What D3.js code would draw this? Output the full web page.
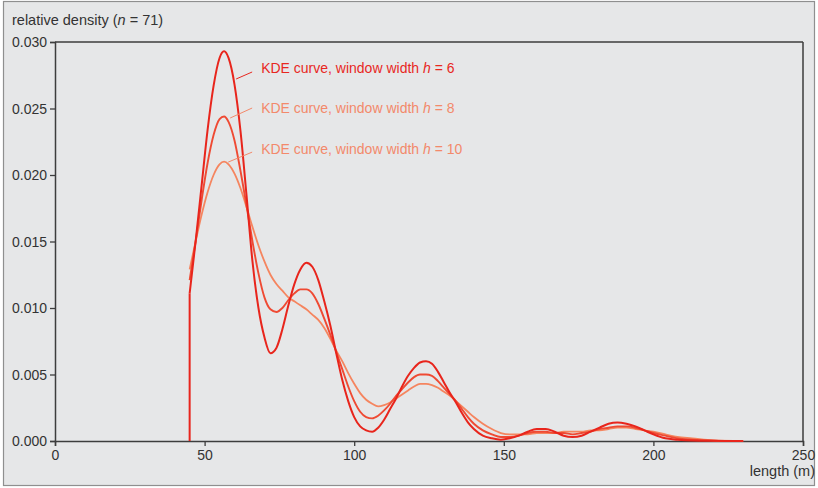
<!DOCTYPE html>
<html><head><meta charset="utf-8">
<script src="https://cdn.jsdelivr.net/npm/d3@7"></script>
<style>
html,body{margin:0;padding:0;background:#fff;}
svg{display:block;font-family:"Liberation Sans",Arial,Helvetica,sans-serif;}
</style></head>
<body>
<svg id="chart" width="818" height="488"></svg>
<script>
// ---- data ----
const lengths = [45,47,49,51,53,55,56.5,58,60,62,64,66,68,70,72,74,76,78,80,82,84,86,88,90,92,94,96,98,100,102,104,106,108,110,112,114,116,118,120,122,124,126,128,130,132,134,136,138,140,143,146,149,152,155,158,161,164,167,170,173,176,179,182,185,188,191,194,197,200,204,208,213,220,230];
const densityH6 = [0.0111,0.0150,0.0192,0.0234,0.0267,0.0288,0.0293,0.0288,0.0268,0.0233,0.0185,0.0135,0.0100,0.0078,0.0066,0.0070,0.0084,0.0102,0.0118,0.0129,0.0134,0.0131,0.0121,0.0105,0.0087,0.0066,0.0046,0.0030,0.0018,0.0011,0.0008,0.0007,0.0010,0.0016,0.0024,0.0032,0.0041,0.0049,0.0055,0.0059,0.0060,0.0058,0.0052,0.0044,0.0036,0.0029,0.0021,0.0014,0.0009,0.0004,0.0002,0.0001,0.0002,0.0004,0.0007,0.0009,0.0009,0.0007,0.0004,0.0003,0.0004,0.0007,0.0010,0.0013,0.0014,0.0013,0.0011,0.0008,0.0005,0.0002,0.0001,0.00003,0.00001,0];
const densityH8 = [0.0121,0.0150,0.0181,0.0209,0.0230,0.0242,0.0244,0.0240,0.0226,0.0203,0.0177,0.0150,0.0126,0.0108,0.0099,0.0097,0.0100,0.0106,0.0111,0.0114,0.0114,0.0111,0.0103,0.0092,0.0080,0.0067,0.0054,0.0041,0.0030,0.0022,0.0018,0.0017,0.0019,0.0023,0.0028,0.0034,0.0039,0.0044,0.0048,0.0050,0.0050,0.0049,0.0045,0.0040,0.0035,0.0030,0.0024,0.0018,0.0013,0.0008,0.0005,0.0003,0.0003,0.0004,0.0006,0.0007,0.0007,0.0006,0.0006,0.0005,0.0006,0.0007,0.0009,0.0010,0.0011,0.0011,0.0010,0.0008,0.0006,0.0004,0.0002,0.0001,0.00003,0];
const densityH10 = [0.0129,0.0150,0.0170,0.0187,0.0200,0.0208,0.0210,0.0208,0.0201,0.0190,0.0176,0.0161,0.0147,0.0135,0.0125,0.0118,0.0113,0.0108,0.0105,0.0102,0.0099,0.0095,0.0091,0.0085,0.0077,0.0068,0.0060,0.0051,0.0043,0.0036,0.0031,0.0028,0.0026,0.0027,0.0029,0.0032,0.0035,0.0038,0.0041,0.0043,0.0043,0.0042,0.0040,0.0037,0.0034,0.0030,0.0026,0.0022,0.0018,0.0013,0.0009,0.0006,0.0005,0.0005,0.0005,0.0006,0.0006,0.0006,0.0007,0.0007,0.0007,0.0008,0.0008,0.0009,0.0010,0.0010,0.0009,0.0008,0.0007,0.0005,0.0003,0.0002,0.00005,0.00001];
const bandwidths = [6, 8, 10];
const xTicks = [0, 50, 100, 150, 200, 250];
const yTicks = [0, 0.005, 0.010, 0.015, 0.020, 0.025, 0.030];
const sampleSize = 71;
const cutoffLength = 45;

// ---- layout ----
const W = 818, H = 488;
const m = {left: 55, top: 42, right: 15, bottom: 47};
const svg = d3.select("#chart");

svg.append("rect").attr("x", 3.5).attr("y", 1.5).attr("width", 811).attr("height", 484)
  .attr("fill", "#e6e7e8").attr("stroke", "#8f8f8f").attr("stroke-width", 1.2);

const x = d3.scaleLinear().domain([0, 250]).range([m.left, W - m.right]);
const y = d3.scaleLinear().domain([0, 0.030]).range([H - m.bottom, m.top]);

const axisColor = "#3d3d3d";
const textColor = "#333";

// frame top and right
svg.append("line").attr("x1", x(0)).attr("x2", x(250)).attr("y1", y(0.03)).attr("y2", y(0.03))
  .attr("stroke", axisColor).attr("stroke-width", 1.5);
svg.append("line").attr("x1", x(250)).attr("x2", x(250)).attr("y1", y(0.03)).attr("y2", y(0))
  .attr("stroke", axisColor).attr("stroke-width", 1.5);

const gx = svg.append("g").attr("transform", `translate(0,${y(0)})`)
  .call(d3.axisBottom(x).tickValues(xTicks).tickSize(5).tickPadding(4).tickFormat(d3.format("d")));
const gy = svg.append("g").attr("transform", `translate(${x(0)},0)`)
  .call(d3.axisLeft(y).tickValues(yTicks).tickSize(5).tickPadding(3).tickFormat(d3.format(".3f")));
[gx, gy].forEach(g => {
  g.select(".domain").attr("stroke", axisColor).attr("stroke-width", 1.5);
  g.selectAll(".tick line").attr("stroke", axisColor).attr("stroke-width", 1.3);
  g.selectAll(".tick text").attr("fill", textColor).attr("font-size", "14px")
    .attr("font-family", "'Liberation Sans', Arial, sans-serif");
});
gy.selectAll(".tick text").attr("dy", "0.35em");

// axis titles
const yt = svg.append("text").attr("x", 12).attr("y", 25).attr("fill", textColor).attr("font-size", "14.5px");
yt.append("tspan").text("relative density (");
yt.append("tspan").attr("font-style", "italic").text("n");
yt.append("tspan").text(" = " + sampleSize + ")");
svg.append("text").attr("x", 815).attr("y", 476).attr("text-anchor", "end")
  .attr("fill", textColor).attr("font-size", "14.5px").text("length (m)");

// curves
const series = [
  {h: bandwidths[2], vals: densityH10, color: "#f5855f", label: "#f3896b", width: 1.8},
  {h: bandwidths[1], vals: densityH8, color: "#ef4a33", label: "#f3896b", width: 1.9},
  {h: bandwidths[0], vals: densityH6, color: "#e8251c", label: "#e8271f", width: 2.0}
];
const line = d3.line().x(d => x(d[0])).y(d => y(d[1])).curve(d3.curveMonotoneX);
const plot = svg.append("g");

// vertical cutoff
plot.append("line").attr("x1", x(cutoffLength)).attr("x2", x(cutoffLength))
  .attr("y1", y(0)).attr("y2", y(densityH6[0]))
  .attr("stroke", "#e8251c").attr("stroke-width", 2);

series.forEach(s => {
  plot.append("path").datum(lengths.map((l, i) => [l, s.vals[i]]))
    .attr("d", line).attr("fill", "none").attr("stroke", s.color)
    .attr("stroke-width", s.width).attr("stroke-linejoin", "round");
});

// labels (top to bottom: h=6, h=8, h=10)
const labelX = x(68.9);
const labelBase = [y(0.02767), y(0.02466), y(0.02157)];
const leaders = [[-25, 6, -9, -1], [-31, 5, -9, -5], [-33, 8, -9, -2]];
[series[2], series[1], series[0]].forEach((s, k) => {
  const t = svg.append("text").attr("x", labelX).attr("y", labelBase[k])
    .attr("fill", s.label).attr("font-size", "14px");
  t.append("tspan").text("KDE curve, window width ");
  t.append("tspan").attr("font-style", "italic").text("h");
  t.append("tspan").text(" = " + s.h);
  const L = leaders[k];
  svg.append("line")
    .attr("x1", labelX + L[0]).attr("y1", labelBase[k] + L[1])
    .attr("x2", labelX + L[2]).attr("y2", labelBase[k] + L[3])
    .attr("stroke", s.label).attr("stroke-width", 1);
});
</script>
</body></html>
